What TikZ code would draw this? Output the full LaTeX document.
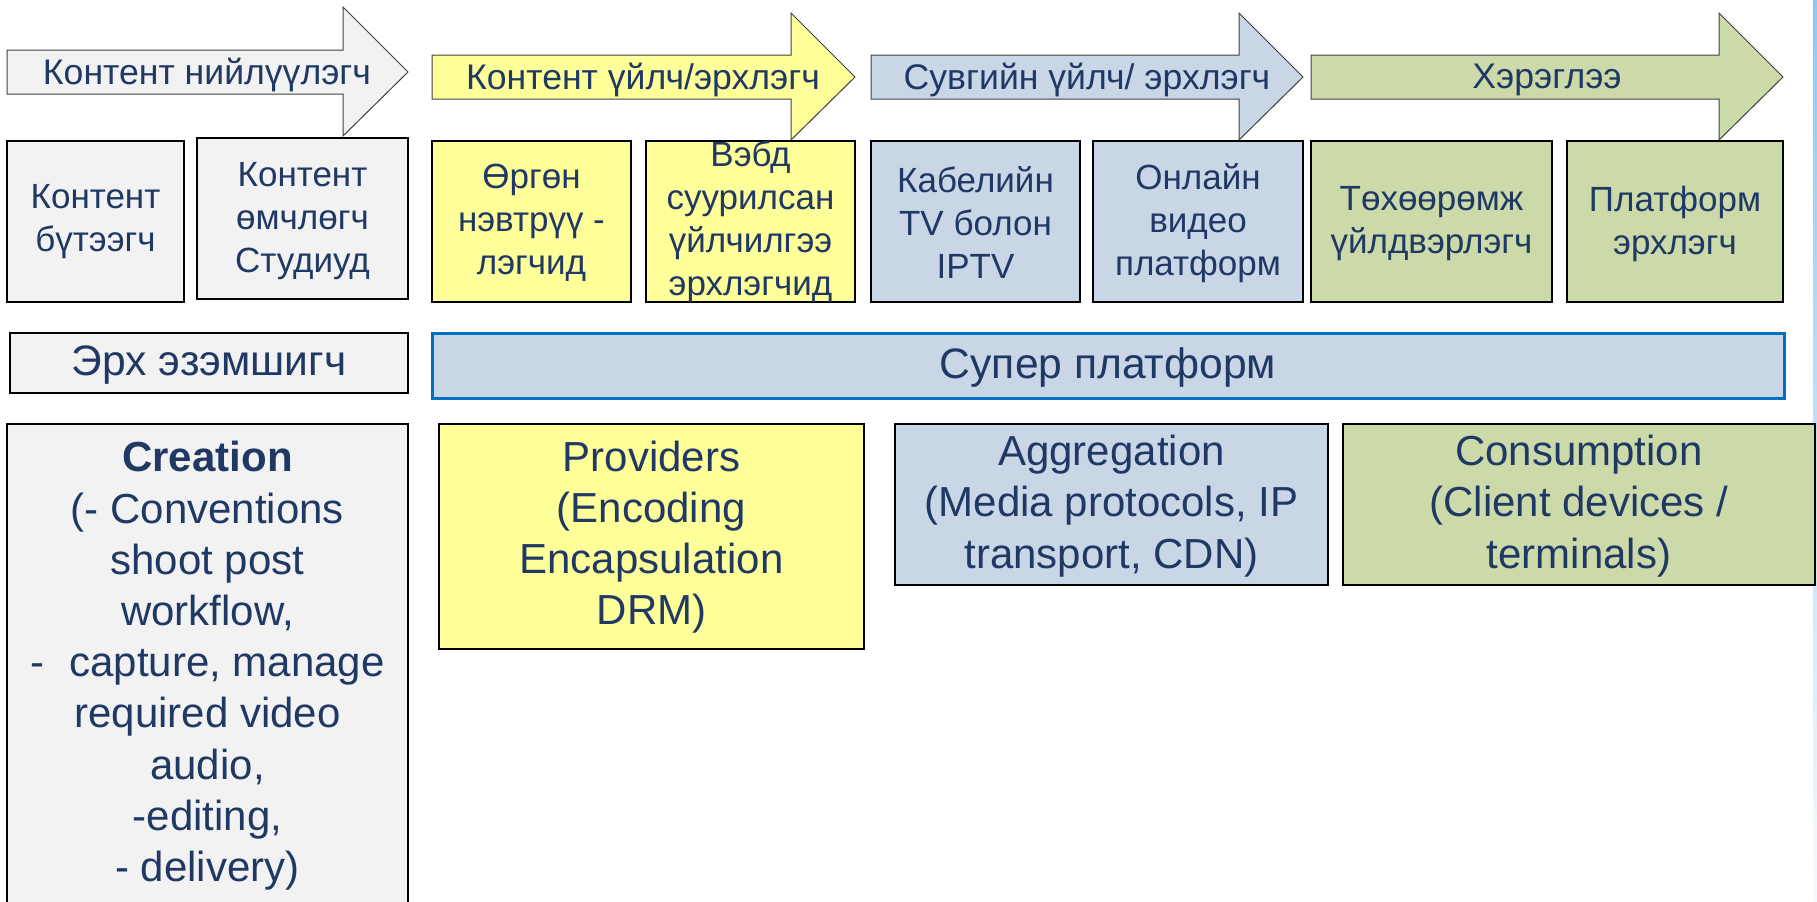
\documentclass[tikz,border=0pt]{standalone}
\usepackage{fontspec}
\setmainfont{Liberation Sans}

\definecolor{txtblue}{HTML}{1F3864}
\definecolor{grayfill}{HTML}{F2F2F2}
\definecolor{yelfill}{HTML}{FFFF99}
\definecolor{bluefill}{HTML}{C9D6E6}
\definecolor{grnfill}{HTML}{CCDAA9}
\definecolor{superline}{HTML}{0070C0}
\definecolor{edgeblue}{HTML}{8CC8F5}

\begin{document}
\begin{tikzpicture}[x=0.5pt, y=-0.5pt,
    stage/.style={draw=black!75, line width=0.5pt},
    cell/.style={draw=black, line width=1.25pt},
    steptext/.style={text=txtblue, align=center, inner sep=0pt, font=\fontsize{17.8}{20}\selectfont},
    celltext/.style={text=txtblue, align=center, inner sep=0pt, font=\fontsize{17.5}{21.5}\selectfont},
    rowtext/.style={text=txtblue, align=center, inner sep=0pt, font=\fontsize{21.3}{24}\selectfont},
    areatext/.style={text=txtblue, align=center, inner sep=0pt, font=\fontsize{21}{25.6}\selectfont}]
  \useasboundingbox (0, 0) rectangle (1817, 901);
  \shade[top color=edgeblue, bottom color=edgeblue!8] (1813, 0) rectangle (1817, 901);

  % stage arrows
  \draw[stage, fill=grayfill] (7, 50) -- (343, 50) -- (343, 7) -- (408, 72) -- (343, 136) -- (343, 94) -- (7, 94) -- cycle;
  \node[steptext] (creator) at (207, 75) {Контент нийлүүлэгч};
  \draw[stage, fill=yelfill] (432, 55) -- (791, 55) -- (791, 13) -- (855, 77) -- (791, 140) -- (791, 99) -- (432, 99) -- cycle;
  \node[steptext] (provider) at (643, 80) {Контент үйлч/эрхлэгч};
  \draw[stage, fill=bluefill] (871, 55) -- (1239, 55) -- (1239, 13) -- (1303, 77) -- (1239, 140) -- (1239, 99) -- (871, 99) -- cycle;
  \node[steptext] (channel) at (1087, 80) {Сувгийн үйлч/ эрхлэгч};
  \draw[stage, fill=grnfill] (1311, 55) -- (1719, 55) -- (1719, 13) -- (1783, 77) -- (1719, 140) -- (1719, 99) -- (1311, 99) -- cycle;
  \node[steptext] (user) at (1547, 80) {Хэрэглээ};

  % actors
  \draw[cell, fill=grayfill] (7, 141) rectangle (184, 302);
  \node[celltext] (maker) at (95.5, 222) {Контент\\бүтээгч};
  \draw[cell, fill=grayfill] (197, 138) rectangle (408, 299);
  \node[celltext] (owner) at (302.5, 221) {Контент\\өмчлөгч\\Студиуд};
  \draw[cell, fill=yelfill] (432, 141) rectangle (631, 302);
  \node[celltext] (broad) at (531.5, 223) {Өргөн\\нэвтрүү -\\лэгчид};
  \draw[cell, fill=yelfill] (646, 141) rectangle (855, 302);
  \node[celltext] (web) at (750.5, 221.5) {Вэбд\\суурилсан\\үйлчилгээ\\эрхлэгчид};
  \draw[cell, fill=bluefill] (871, 141) rectangle (1080, 302);
  \node[celltext] (cable) at (975.5, 223) {Кабелийн\\TV болон\\IPTV};
  \draw[cell, fill=bluefill] (1093, 141) rectangle (1303, 302);
  \node[celltext] (online) at (1198, 223) {Онлайн\\видео\\платформ};
  \draw[cell, fill=grnfill] (1311, 141) rectangle (1552, 302);
  \node[celltext] (device) at (1431.5, 224) {Төхөөрөмж\\үйлдвэрлэгч};
  \draw[cell, fill=grnfill] (1567, 141) rectangle (1783, 302);
  \node[celltext] (platf) at (1675, 224) {Платформ\\эрхлэгч};

  % rights and super platform
  \draw[cell, fill=grayfill] (10, 333) rectangle (408, 393);
  \node[rowtext] (rights) at (209, 365) {Эрх эзэмшигч};
  \draw[draw=superline, line width=1.5pt, fill=bluefill] (432, 333) rectangle (1784, 398);
  \node[rowtext] (super) at (1108, 367) {Супер платформ};

  % areas
  \draw[cell, fill=grayfill] (7, 424) rectangle (408, 930);
  \node[areatext, anchor=north] (creation) at (207.5, 441) {\textbf{Creation}\\(- Conventions\\shoot post\\workflow,\\-\hspace{0.6em}capture, manage\\required video\\audio,\\-editing,\\- delivery)};
  \draw[cell, fill=yelfill] (439, 424) rectangle (864, 649);
  \node[areatext] (providers) at (651.5, 537) {Providers\\(Encoding\\Encapsulation\\DRM)};
  \draw[cell, fill=bluefill] (895, 424) rectangle (1328, 585);
  \node[areatext] (aggregation) at (1111.5, 506) {Aggregation\\(Media protocols, IP\\transport, CDN)};
  \draw[cell, fill=grnfill] (1343, 424) rectangle (1815, 585);
  \node[areatext] (consumption) at (1579, 506) {Consumption\\(Client devices /\\terminals)};
\end{tikzpicture}
\end{document}
